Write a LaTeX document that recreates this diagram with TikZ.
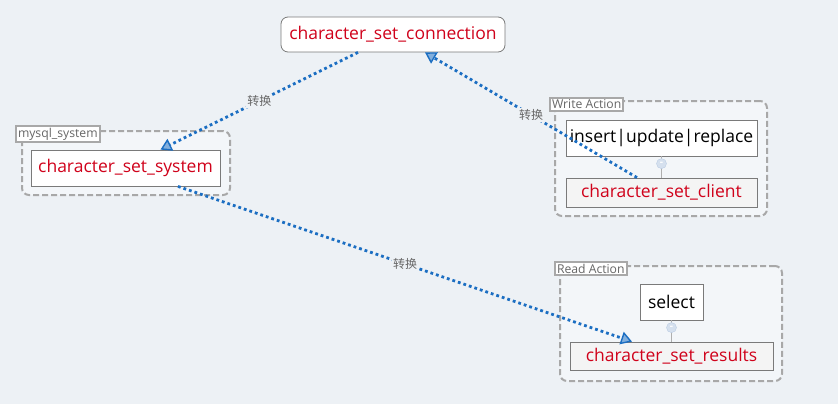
\documentclass[tikz,border=0pt]{standalone}
\usepackage{fontspec}
\setmainfont{Open Sans}
\newfontfamily\cjk{Noto Sans CJK SC}
\usetikzlibrary{
  arrows.meta,
  positioning,
  fit
}
\definecolor{csBg}{HTML}{EDF1F5}
\definecolor{csGroup}{HTML}{F3F6F9}
\definecolor{csRed}{HTML}{D0021B}
\definecolor{csBlue}{HTML}{1B6EC2}
\definecolor{csFrame}{HTML}{7A7A7A}
\definecolor{csDash}{HTML}{A8A8A8}
\definecolor{csMute}{HTML}{666666}
\definecolor{csShade}{HTML}{F4F4F4}
\definecolor{csKnob}{HTML}{B9CBE3}
\tikzset{
  csnode/.style={
    draw=csFrame, fill=white, line width=0.8pt, minimum height=36pt,
    inner sep=3pt, font=\fontsize{17.5}{20}\selectfont, text=csRed
  },
  cmdnode/.style={csnode, text=black},
  resnode/.style={csnode, fill=csShade, minimum height=29pt},
  grpbox/.style={
    draw=csDash, fill=csGroup, line width=2pt, dash pattern=on 6pt off 3pt,
    rounded corners=7pt, inner sep=0pt
  },
  grptag/.style={
    draw=csDash, fill=white, line width=2pt, inner sep=2pt, anchor=north west,
    font=\fontsize{12.2}{14}\selectfont, text=csMute
  },
  convert/.style={
    csBlue, line width=2.8pt, dash pattern=on 2.8pt off 3pt,
    -{Triangle[length=11pt, width=13pt, line width=1.4pt, fill=csBlue!55]}
  },
  cvtag/.style={font=\cjk\fontsize{12}{14}\selectfont, text=csMute, fill=csBg, inner sep=1pt},
  stem/.style={draw=csFrame!60, line width=0.8pt},
  knob/.style={circle, draw=csKnob, fill=csKnob!60, minimum size=10pt, inner sep=0pt,
    font=\fontsize{10}{10}\selectfont, text=white}
}
\begin{document}
\begin{tikzpicture}[x=1pt, y=1pt]
  \fill[csBg] (0,0) rectangle (838,-404);
  \useasboundingbox (0,0) rectangle (838,-404);
  % groups
  \node[grpbox, fit={(22,-131) (230,-195)}] (sysgrp) {};
  \node[grptag] (systag) at (15,-125) {mysql\_system};
  \node[grpbox, fit={(555,-101) (767,-216)}] (wrgrp) {};
  \node[grptag] (wrtag) at (549,-97) {Write Action};
  \node[grpbox, fit={(560,-266) (782,-381)}] (rdgrp) {};
  \node[grptag] (rdtag) at (554,-261) {Read Action};
  % charsets
  \node[csnode, rounded corners=7pt, minimum width=224pt, minimum height=35pt] (conn) at (393,-34.5) {character\_set\_connection};
  \node[csnode, minimum width=189pt] (sys) at (125.5,-168) {character\_set\_system};
  \node[cmdnode, minimum width=191pt] (ins) at (661.5,-138) {insert|update|replace};
  \node[resnode, minimum width=191pt] (cli) at (661.5,-192.5) {character\_set\_client};
  \node[cmdnode, minimum width=63pt] (sel) at (671.5,-302) {select};
  \node[resnode, minimum width=203pt, minimum height=28pt] (res) at (671.5,-356) {character\_set\_results};
  % stems
  \draw[stem] (ins) -- (cli);
  \draw[stem] (sel) -- (res);
  \node[knob, below=2pt of ins] (insknob) {\textbf{-}};
  \node[knob, below=2pt of sel] (selknob) {\textbf{-}};
  % conversions
  \draw[convert] ([xshift=-35pt]conn.south) -- node[cvtag] {转换} ([xshift=35pt]sys.north);
  \draw[convert] ([xshift=-24.5pt]cli.north) -- node[cvtag] {转换} ([xshift=32pt]conn.south);
  \draw[convert] ([xshift=52.5pt]sys.south) -- node[cvtag] {转换} ([xshift=-39.5pt]res.north);
\end{tikzpicture}
\end{document}
